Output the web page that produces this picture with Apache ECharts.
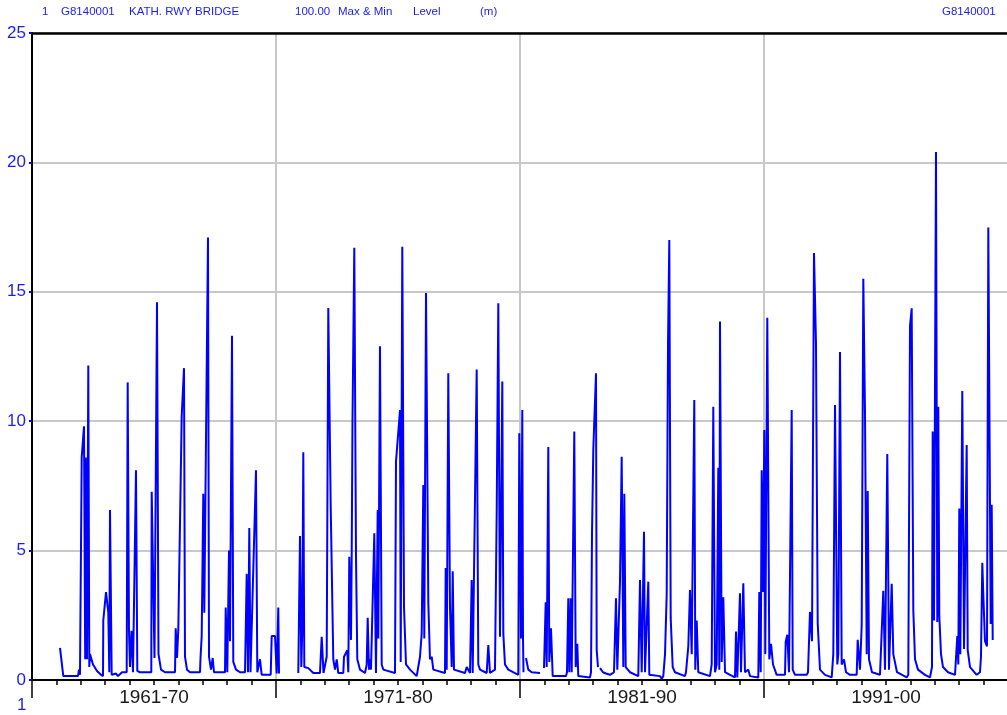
<!DOCTYPE html>
<html>
<head>
<meta charset="utf-8">
<title>G8140001 KATH. RWY BRIDGE</title>
<script src="https://cdn.jsdelivr.net/npm/echarts@6/dist/echarts.min.js"></script>
<style>
  html, body { margin: 0; padding: 0; background: #fff; }
  #chart { width: 1007px; height: 715px; }
</style>
</head>
<body>
<div id="chart"></div>
<script>
// decade labels on the x axis, placed at the middle year of each decade
const decadeLabels = { 1966: '1961-70', 1976: '1971-80', 1986: '1981-90', 1996: '1991-00' }
const yTicks = [0, 5, 10, 15, 20, 25]

// [decimal year, level (m)]  '-' = no record
const levels1961to70 = [
  [1962.148, 1.24], [1962.283, 0.15], [1962.885, 0.15], [1962.926, 0.4], [1962.967, 0.2],
  [1963.037, 8.6], [1963.131, 9.8], [1963.180, 0.8], [1963.205, 8.6], [1963.254, 0.8],
  [1963.307, 12.15], [1963.348, 0.5], [1963.377, 1.0], [1963.500, 0.6], [1963.664, 0.35],
  [1963.828, 0.2], [1963.910, 0.15], [1963.922, 2.3], [1964.033, 3.4], [1964.127, 2.6],
  [1964.168, 0.3], [1964.197, 6.57], [1964.266, 0.2], [1964.443, 0.25], [1964.525, 0.15],
  [1964.689, 0.3], [1964.881, 0.3], [1964.922, 11.5], [1964.975, 1.9], [1965.016, 0.5],
  [1965.078, 1.9], [1965.139, 0.3], [1965.180, 0.3], [1965.262, 8.1], [1965.316, 0.35],
  [1965.426, 0.3], [1965.631, 0.3], [1965.889, 0.3], [1965.906, 7.27], [1966.020, 0.85],
  [1966.123, 14.6], [1966.184, 1.0], [1966.287, 0.4], [1966.451, 0.3], [1966.861, 0.3],
  [1966.889, 2.0], [1966.943, 0.85], [1966.996, 1.95], [1967.135, 10.2], [1967.230, 12.05],
  [1967.270, 0.9], [1967.352, 0.4], [1967.475, 0.3], [1967.885, 0.3], [1967.906, 0.85],
  [1967.955, 1.7], [1968.020, 7.2], [1968.061, 2.6], [1968.213, 17.1], [1968.254, 0.9],
  [1968.336, 0.4], [1968.406, 0.85], [1968.459, 0.3], [1968.910, 0.3], [1968.939, 2.8],
  [1969.004, 0.3], [1969.074, 5.0], [1969.115, 1.5], [1969.197, 13.3], [1969.250, 0.7],
  [1969.361, 0.4], [1969.525, 0.3], [1969.730, 0.3], [1969.799, 4.1], [1969.852, 0.3],
  [1969.906, 5.87], [1969.955, 0.3], [1970.016, 0.3], [1970.180, 8.1], [1970.234, 0.3],
  [1970.344, 0.8], [1970.414, 0.2], [1970.783, 0.2], [1970.824, 1.7], [1970.959, 1.7],
  [1971.029, 0.25], [1971.094, 2.8], [1971.123, 0.25], [1971.5, '-']
]

const levels1971to80 = [
  [1971.914, 0.27], [1971.984, 5.56], [1972.037, 0.5], [1972.078, 2.0], [1972.119, 8.8],
  [1972.160, 0.5], [1972.324, 0.46], [1972.529, 0.27], [1972.803, 0.27], [1972.873, 1.67],
  [1972.947, 0.27], [1973.078, 0.9], [1973.143, 14.37], [1973.242, 6.7], [1973.348, 0.8],
  [1973.418, 0.4], [1973.488, 0.8], [1973.553, 0.27], [1973.758, 0.27], [1973.787, 0.9],
  [1973.922, 1.15], [1973.963, 0.3], [1974.004, 4.76], [1974.074, 1.55], [1974.102, 4.76],
  [1974.135, 10.0], [1974.209, 16.7], [1974.279, 4.76], [1974.332, 0.8], [1974.443, 0.4],
  [1974.648, 0.27], [1974.717, 0.6], [1974.758, 2.4], [1974.811, 0.4], [1974.852, 0.8],
  [1974.893, 0.4], [1975.029, 5.67], [1975.098, 0.27], [1975.168, 6.57], [1975.193, 1.6],
  [1975.262, 12.9], [1975.332, 0.6], [1975.398, 0.4], [1975.877, 0.27], [1975.918, 8.44],
  [1976.082, 10.43], [1976.111, 0.7], [1976.176, 16.74], [1976.246, 2.83], [1976.328, 0.6],
  [1976.492, 0.4], [1976.766, 0.15], [1976.902, 0.9], [1976.971, 1.8], [1977.037, 7.53],
  [1977.078, 1.6], [1977.148, 14.95], [1977.242, 3.0], [1977.311, 0.8], [1977.381, 0.9],
  [1977.447, 0.4], [1977.926, 0.27], [1977.955, 4.33], [1977.996, 0.4], [1978.061, 11.85],
  [1978.131, 2.8], [1978.201, 0.5], [1978.242, 4.2], [1978.295, 0.4], [1978.746, 0.27],
  [1978.816, 0.5], [1978.951, 0.27], [1979.020, 3.86], [1979.061, 0.27], [1979.086, 0.27],
  [1979.225, 12.0], [1979.291, 0.6], [1979.361, 0.4], [1979.635, 0.27], [1979.701, 1.35],
  [1979.770, 0.27], [1979.975, 0.4], [1980.045, 6.5], [1980.111, 14.56], [1980.180, 1.67],
  [1980.275, 11.53], [1980.316, 1.8], [1980.385, 0.6], [1980.520, 0.4], [1980.930, 0.2],
  [1980.971, 9.53], [1981.041, 1.6], [1981.094, 10.43], [1981.123, 1.6], [1981.143, 0.3],
  [1981.2, '-'], [1981.246, 0.85], [1981.340, 0.4], [1981.480, 0.3], [1981.820, 0.27],
  [1981.9, '-']
]

const levels1981to90 = [
  [1981.984, 0.46], [1982.053, 3.0], [1982.094, 0.5], [1982.160, 9.0], [1982.201, 0.7],
  [1982.270, 2.0], [1982.340, 0.15], [1982.885, 0.15], [1982.926, 0.3], [1982.980, 3.16],
  [1983.020, 0.3], [1983.078, 3.16], [1983.119, 0.3], [1983.225, 9.6], [1983.283, 0.5],
  [1983.348, 1.4], [1983.389, 0.15], [1983.869, 0.1], [1983.910, 0.3], [1983.951, 5.67],
  [1984.004, 8.9], [1984.074, 8.9], [1984.115, 11.85], [1984.143, 1.16], [1984.197, 0.5],
  [1984.24, '-'], [1984.279, 0.46], [1984.402, 0.3], [1984.525, 0.25], [1984.689, 0.2],
  [1984.852, 0.3], [1984.934, 3.16], [1984.988, 0.4], [1985.098, 3.8], [1985.168, 8.63],
  [1985.234, 0.5], [1985.275, 7.2], [1985.332, 0.5], [1985.385, 0.5], [1985.508, 0.3],
  [1985.848, 0.15], [1985.918, 3.86], [1985.988, 0.3], [1986.082, 5.73], [1986.123, 0.3],
  [1986.258, 3.8], [1986.299, 0.2], [1986.738, 0.15], [1986.807, 0.05], [1986.873, 0.15],
  [1986.943, 1.0], [1987.012, 3.3], [1987.066, 12.94], [1987.119, 17.0], [1987.176, 2.4],
  [1987.258, 0.5], [1987.352, 0.3], [1987.762, 0.15], [1987.803, 0.3], [1987.898, 1.3],
  [1987.967, 3.48], [1988.037, 1.0], [1988.143, 10.82], [1988.184, 0.4], [1988.242, 2.3],
  [1988.307, 0.3], [1988.787, 0.15], [1988.857, 0.6], [1988.922, 10.56], [1988.992, 0.3],
  [1989.061, 0.6], [1989.127, 8.2], [1989.168, 0.4], [1989.197, 13.85], [1989.266, 0.7],
  [1989.332, 3.2], [1989.402, 0.3], [1989.607, 0.2], [1989.811, 0.1], [1989.852, 1.87],
  [1989.906, 0.1], [1990.016, 3.35], [1990.057, 0.3], [1990.152, 3.74], [1990.221, 0.3],
  [1990.357, 0.4], [1990.426, 0.15], [1990.766, 0.1], [1990.807, 3.4], [1990.865, 0.3],
  [1990.906, 8.1], [1990.959, 3.4], [1991.012, 9.66], [1991.053, 1.0], [1991.135, 14.0],
  [1991.217, 0.8], [1991.287, 1.4], [1991.369, 0.6], [1991.520, 0.2], [1991.861, 0.2]
]

const levels1991to00 = [
  [1991.889, 1.48], [1991.955, 1.75], [1992.025, 0.3], [1992.135, 10.43], [1992.176, 0.4],
  [1992.270, 0.2], [1992.750, 0.2], [1992.803, 0.3], [1992.885, 2.63], [1992.967, 1.5],
  [1993.049, 16.5], [1993.131, 13.0], [1993.160, 8.3], [1993.201, 2.2], [1993.295, 0.4],
  [1993.500, 0.2], [1993.775, 0.1], [1993.840, 1.0], [1993.910, 10.63], [1994.004, 0.6],
  [1994.045, 1.0], [1994.115, 12.67], [1994.184, 0.6], [1994.279, 0.8], [1994.361, 0.3],
  [1994.525, 0.2], [1994.799, 0.2], [1994.840, 1.55], [1994.934, 0.4], [1995.004, 2.1],
  [1995.070, 15.5], [1995.139, 10.36], [1995.209, 1.0], [1995.250, 7.3], [1995.303, 0.8],
  [1995.426, 0.3], [1995.754, 0.2], [1995.824, 0.2], [1995.889, 3.45], [1995.959, 0.4],
  [1996.053, 8.73], [1996.123, 0.4], [1996.234, 3.72], [1996.299, 1.0], [1996.451, 0.3],
  [1996.848, 0.1], [1996.914, 0.2], [1996.984, 13.68], [1997.053, 14.36], [1997.119, 2.7],
  [1997.189, 0.8], [1997.311, 0.4], [1997.598, 0.2], [1997.803, 0.1], [1997.885, 0.5],
  [1997.914, 9.6], [1997.967, 2.3], [1998.049, 20.4], [1998.102, 2.24], [1998.143, 10.56],
  [1998.184, 2.5], [1998.254, 1.0], [1998.336, 0.5], [1998.541, 0.3], [1998.828, 0.2],
  [1998.922, 1.7], [1998.963, 0.6], [1999.004, 6.63], [1999.045, 1.0], [1999.127, 11.17],
  [1999.197, 1.2], [1999.307, 9.08], [1999.348, 1.16], [1999.443, 0.5], [1999.717, 0.2],
  [1999.852, 0.3], [1999.893, 0.9], [1999.947, 4.53], [1999.988, 3.3], [2000.057, 1.5],
  [2000.139, 1.3], [2000.193, 17.48], [2000.262, 6.77], [2000.291, 2.16], [2000.332, 6.77],
  [2000.373, 1.55]
]

const levels = levels1961to70.concat(levels1971to80, levels1981to90, levels1991to00)

const blue = '#0000ff'
const textBlue = '#1c1cf0'
const font = '"Liberation Sans", Arial, sans-serif'

const chart = echarts.init(document.getElementById('chart'))

// header line, same layout as the printed plot
const header = [
  { text: '1', left: 42 },
  { text: 'G8140001', left: 61 },
  { text: 'KATH. RWY BRIDGE', left: 129 },
  { text: '100.00', left: 295 },
  { text: 'Max & Min', left: 338 },
  { text: 'Level', left: 413 },
  { text: '(m)', left: 480 },
  { text: 'G8140001', left: 942 }
].map(h => ({
  type: 'text',
  left: h.left,
  top: 6,
  style: { text: h.text, fill: textBlue, font: '11.5px ' + font }
}))

chart.setOption({
  animation: false,
  backgroundColor: '#fff',
  graphic: header.concat([
    {
      type: 'text',
      left: 17,
      top: 697,
      style: { text: '1', fill: textBlue, font: '17px ' + font }
    }
  ]),
  grid: {
    left: 32,
    top: 33,
    width: 976,
    height: 647,
    containLabel: false,
    outerBoundsMode: 'none'
  },
  xAxis: [
    {
      // yearly ticks + decade labels
      type: 'value',
      min: 1961,
      max: 2001,
      interval: 1,
      position: 'bottom',
      axisLine: { lineStyle: { color: '#000', width: 2 } },
      axisTick: { length: 5, lineStyle: { color: '#000', width: 1.5 } },
      splitLine: { show: false },
      axisLabel: {
        margin: 8,
        color: '#1a1a1a',
        fontFamily: font,
        fontSize: 19,
        formatter: v => decadeLabels[v] || ''
      }
    },
    {
      // decade ticks and vertical grid
      type: 'value',
      min: 1961,
      max: 2001,
      interval: 10,
      position: 'bottom',
      axisLine: { show: false },
      axisTick: { length: 18, lineStyle: { color: '#000', width: 1.5 } },
      axisLabel: { show: false },
      splitLine: { show: true, lineStyle: { color: '#c8c8c8', width: 2 } }
    },
    {
      // top frame line only
      type: 'value',
      min: 1961,
      max: 2001,
      position: 'top',
      axisLine: { show: true, lineStyle: { color: '#000', width: 2.5 } },
      axisTick: { show: false },
      axisLabel: { show: false },
      splitLine: { show: false }
    }
  ],
  yAxis: {
    type: 'value',
    min: yTicks[0],
    max: yTicks[yTicks.length - 1],
    interval: 5,
    axisLine: { show: true, lineStyle: { color: '#000', width: 2 } },
    axisTick: { show: true, length: 3, lineStyle: { color: blue, width: 2 } },
    axisLabel: {
      margin: 6,
      color: textBlue,
      fontFamily: font,
      fontSize: 17
    },
    splitLine: { show: true, lineStyle: { color: '#c8c8c8', width: 2 } }
  },
  series: [
    {
      name: 'Level',
      type: 'line',
      xAxisIndex: 0,
      data: levels,
      showSymbol: false,
      connectNulls: false,
      lineStyle: { color: blue, width: 2 },
      z: 3
    }
  ]
})
</script>
</body>
</html>
